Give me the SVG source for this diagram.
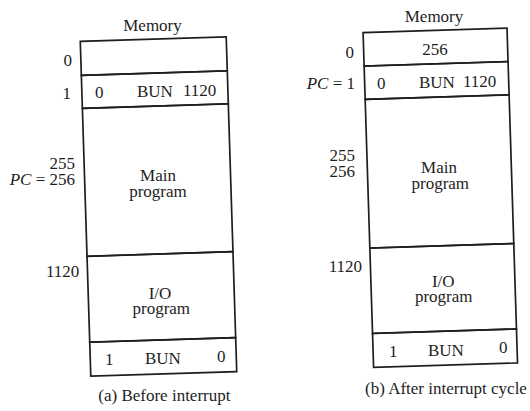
<svg xmlns="http://www.w3.org/2000/svg" width="530" height="411" viewBox="0 0 530 411">
<style>
.cell{fill:none;stroke:#1e1e1e;stroke-width:1.7}
text{font-family:"Liberation Serif","Times New Roman",serif;font-size:17px;fill:#1e1e1e}
.m{text-anchor:middle}
.e{text-anchor:end}
.i{font-style:italic}
</style>
<rect width="530" height="411" fill="#ffffff"/>
<g id="panel-a">
  <text id="a-title" class="m" x="152.5" y="31">Memory</text>
  <g id="a-cell0">
    <rect class="cell" x="85.5" y="39" width="146" height="34" transform="rotate(-1.8 158.5 206.5)"/>
  </g>
  <g id="a-cell1">
    <rect class="cell" x="85.5" y="73" width="146" height="33" transform="rotate(-1.8 158.5 206.5)"/>
    <text x="95" y="97.7">0</text>
    <text x="137" y="97">BUN</text>
    <text x="183" y="96">1120</text>
  </g>
  <g id="a-main">
    <rect class="cell" x="85.5" y="106" width="146" height="148" transform="rotate(-1.8 158.5 206.5)"/>
    <text class="m" x="158" y="180.7">Main</text>
    <text class="m" x="158" y="196.5">program</text>
  </g>
  <g id="a-io">
    <rect class="cell" x="85.5" y="254" width="146" height="86" transform="rotate(-1.8 158.5 206.5)"/>
    <text class="m" x="160" y="298.5">I/O</text>
    <text class="m" x="161.3" y="314">program</text>
  </g>
  <g id="a-bun">
    <rect class="cell" x="85.5" y="340" width="146" height="34" transform="rotate(-1.8 158.5 206.5)"/>
    <text x="105" y="365">1</text>
    <text x="145" y="364">BUN</text>
    <text x="217" y="362">0</text>
  </g>
  <g id="a-addresses">
    <text class="e" x="72" y="66">0</text>
    <text class="e" x="71" y="99">1</text>
    <text class="e" x="75" y="169.3">255</text>
    <text class="e" x="75" y="185.3"><tspan class="i">PC</tspan> = 256</text>
    <text class="e" x="79.3" y="277.3">1120</text>
  </g>
  <text id="a-caption" x="98.3" y="401">(a) Before interrupt</text>
</g>
<g id="panel-b">
  <text id="b-title" class="m" x="434" y="22.3">Memory</text>
  <g id="b-cell0">
    <rect class="cell" x="368.3" y="30.25" width="144" height="33.45" transform="rotate(-1.8 440.3 197.75)"/>
    <text class="m" x="435" y="55">256</text>
  </g>
  <g id="b-cell1">
    <rect class="cell" x="368.3" y="63.7" width="144" height="33.3" transform="rotate(-1.8 440.3 197.75)"/>
    <text x="377" y="89">0</text>
    <text x="419" y="88">BUN</text>
    <text x="463" y="86.5">1120</text>
  </g>
  <g id="b-main">
    <rect class="cell" x="368.3" y="97" width="144" height="148.8" transform="rotate(-1.8 440.3 197.75)"/>
    <text class="m" x="439" y="172.7">Main</text>
    <text class="m" x="440.3" y="189">program</text>
  </g>
  <g id="b-io">
    <rect class="cell" x="368.3" y="245.8" width="144" height="85.5" transform="rotate(-1.8 440.3 197.75)"/>
    <text class="m" x="443.3" y="286.5">I/O</text>
    <text class="m" x="443.7" y="302">program</text>
  </g>
  <g id="b-bun">
    <rect class="cell" x="368.3" y="331.3" width="144" height="34" transform="rotate(-1.8 440.3 197.75)"/>
    <text x="389" y="356.7">1</text>
    <text x="428" y="355.5">BUN</text>
    <text x="499" y="353">0</text>
  </g>
  <g id="b-addresses">
    <text class="e" x="354" y="57.5">0</text>
    <text class="e" x="355" y="89"><tspan class="i">PC</tspan> = 1</text>
    <text class="e" x="355" y="160.7">255</text>
    <text class="e" x="355" y="176.5">256</text>
    <text class="e" x="362" y="271.7">1120</text>
  </g>
  <text id="b-caption" x="365" y="394">(b) After interrupt cycle</text>
</g>
<g id="connectors"/>
</svg>
